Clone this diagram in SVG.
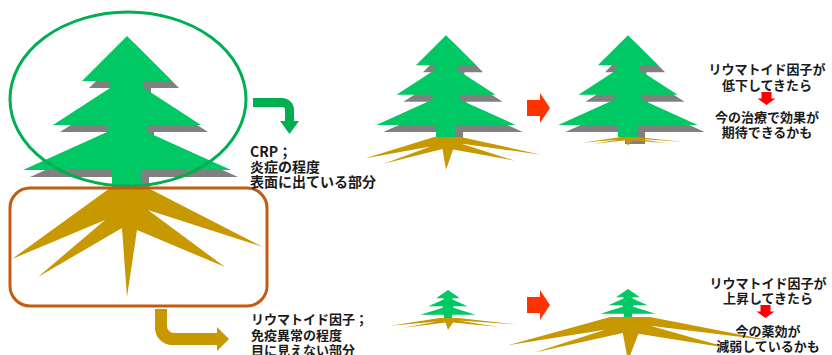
<svg xmlns="http://www.w3.org/2000/svg" xmlns:xlink="http://www.w3.org/1999/xlink" width="832" height="355" viewBox="0 0 832 355">
  <style>
    .leaf { fill: #00c864; }
    .shade { fill: #808080; }
    .root { fill: #c89800; }
    .label { font-family: "Noto Sans CJK JP", "Noto Sans", sans-serif; font-weight: bold; fill: #1a1a1a; }
    .note { font-size: 13px; text-anchor: middle; }
    .redarrow { fill: #ff3300; }
    .downarrow { fill: #ff0000; }
  </style>
  <defs>
    <!-- fir silhouette, origin at the bottom centre of the trunk -->
    <polygon id="fir" points="0,-152 45,-107 17,-107 17,-100 74,-63 20,-63 20,-56 104,-18 15,-18 15,0 -15,0 -15,-18 -104,-18 -20,-56 -20,-63 -74,-63 -17,-100 -17,-107 -45,-107"/>
    <!-- root fan, origin at the trunk base -->
    <polygon id="roots" points="-17,0 -115,71 -22,32 -89,89 -5,40 0,109 10,42 98,79 21,22 136,59 21,0"/>
  </defs>

  <!-- large tree with the visible / hidden parts marked -->
  <g id="tree-main">
    <use href="#fir" class="shade" transform="translate(134,195)"/>
    <use href="#fir" class="leaf" transform="translate(127,188)"/>
    <use href="#roots" class="root" transform="translate(127,188)"/>
    <ellipse cx="128" cy="99" rx="118" ry="87" fill="none" stroke="#00b050" stroke-width="3"/>
    <rect x="10" y="188" width="257" height="118" rx="20" fill="none" stroke="#c55a11" stroke-width="3"/>
  </g>

  <g id="label-crp" class="label" font-size="14">
    <text x="250" y="157">CRP；</text>
    <text x="250" y="172">炎症の程度</text>
    <text x="250" y="186.5">表面に出ている部分</text>
  </g>

  <g id="label-rf" class="label" font-size="13">
    <text x="251" y="324">リウマトイド因子；</text>
    <text x="251" y="339.5">免疫異常の程度</text>
    <text x="251" y="355">目に見えない部分</text>
  </g>

  <!-- upper row: falling RF -->
  <g id="tree-top-now">
    <use href="#fir" class="shade" transform="translate(453,144) scale(0.67)"/>
    <use href="#fir" class="leaf" transform="translate(446,137) scale(0.67)"/>
    <use href="#roots" class="root" transform="translate(446,137) scale(0.7,0.3)"/>
  </g>
  <g id="tree-top-after">
    <use href="#fir" class="shade" transform="translate(635,144) scale(0.67)"/>
    <use href="#fir" class="leaf" transform="translate(628,137) scale(0.67)"/>
    <use href="#roots" class="root" transform="translate(628,137) scale(0.4,0.08)"/>
  </g>

  <!-- lower row: rising RF -->
  <g id="tree-bottom-now">
    <use href="#fir" class="leaf" transform="translate(448,318) scale(0.265,0.185)"/>
    <use href="#roots" class="root" transform="translate(448,318) scale(0.5,0.11)"/>
  </g>
  <g id="tree-bottom-after">
    <use href="#fir" class="leaf" transform="translate(628,317) scale(0.265,0.185)"/>
    <use href="#roots" class="root" transform="translate(628,317) scale(1.05,0.4)"/>
  </g>

  <g id="note-top" class="label note">
    <text x="767" y="74">リウマトイド因子が</text>
    <text x="767" y="89.5">低下してきたら</text>
    <path class="downarrow" d="M761.5,92 H771.5 V98.5 H775.5 L766.5,105 L757.5,98.5 H761.5 Z"/>
    <text x="767" y="121.5">今の治療で効果が</text>
    <text x="767" y="137">期待できるかも</text>
  </g>

  <g id="note-bottom" class="label note">
    <text x="768" y="288">リウマトイド因子が</text>
    <text x="768" y="303">上昇してきたら</text>
    <path class="downarrow" d="M760.5,305 H770.5 V311.5 H774.5 L765.5,318 L756.5,311.5 H760.5 Z"/>
    <text x="768" y="335.5">今の薬効が</text>
    <text x="768" y="350.5">減弱しているかも</text>
  </g>

  <g id="connectors">
    <!-- bent arrow from the crown to its caption -->
    <path fill="#00b050" d="M253,98 H282 A12,12 0 0 1 294,110 V121 H299 L289.5,134 L280,121 H285 V110 A3,3 0 0 0 282,107 H253 Z"/>
    <!-- bent arrow from the roots to their caption -->
    <path fill="#c89800" d="M155,309 H167 V326 A7,7 0 0 0 174,333 H217 V327 L229,339 L217,351 V345 H172 A17,17 0 0 1 155,328 Z"/>
    <!-- before / after arrows -->
    <path class="redarrow" d="M527,100 H540 V93 L550,108 L540,123 V116 H527 Z"/>
    <path class="redarrow" d="M527,297 H540 V290 L550,305 L540,320 V313 H527 Z"/>
  </g>
</svg>
